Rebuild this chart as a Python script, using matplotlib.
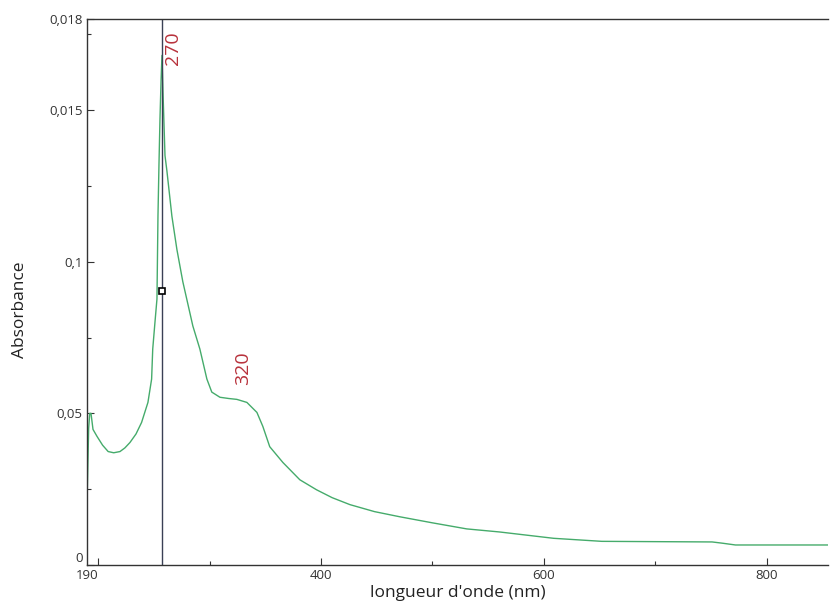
import matplotlib.pyplot as plt
from matplotlib.transforms import ScaledTranslation

plt.rcParams['font.family'] = ['Open Sans', 'DejaVu Sans']

# spectre UV-visible : longueur d'onde (nm) / absorbance
wavelength = [190, 190.6, 191.5, 192.5, 193.6, 195.4, 199, 204, 209, 214, 219.6,
              224, 228.6, 234, 239, 244.7, 248, 249, 251, 252.8, 253.7, 254.6,
              255.5, 256.5, 257.3, 258.2, 260, 261.7, 266.2, 270.7, 276, 285,
              291.3, 297.6, 302, 309.3, 317, 324.5, 333.5, 342.5, 347.8, 354,
              365.8, 381, 396, 410, 426, 448, 470.7, 500, 530.8, 560, 608.8,
              652, 700, 751, 760, 772, 800, 855]
absorbance = [0.020, 0.030, 0.045, 0.050, 0.050, 0.0447, 0.0424, 0.0395, 0.0374,
              0.0370, 0.0374, 0.0386, 0.0404, 0.0432, 0.047, 0.0536, 0.0613,
              0.0712, 0.080, 0.0877, 0.115, 0.132, 0.147, 0.160, 0.168, 0.156,
              0.135, 0.130, 0.115, 0.104, 0.0934, 0.0788, 0.0712, 0.0613, 0.057,
              0.0553, 0.0549, 0.0546, 0.0536, 0.0503, 0.0457, 0.039, 0.0338,
              0.0281, 0.0248, 0.0222, 0.0199, 0.0176, 0.0159, 0.0139, 0.0119,
              0.0109, 0.0088, 0.0078, 0.0077, 0.0076, 0.0072, 0.0066, 0.0066,
              0.0066]

cursor_x = 257.3
cursor_y = 0.0904

x_ticks = [190, 200, 400, 600, 800]
x_labels = ['190', '', '400', '600', '800']
y_ticks = [0, 0.05, 0.1, 0.15, 0.18]
y_labels = ['0', '0,05', '0,1', '0,015', '0,018']

# étiquettes des pics (position du texte, valeur affichée)
peak_labels = [(267, 0.1705, '270'), (330, 0.065, '320')]

fig = plt.figure(figsize=(8.3, 6.13), dpi=100)
ax = fig.add_axes([0.1048, 0.0783, 0.8928, 0.8907])

ax.plot(wavelength, absorbance, color='#45ab6b', lw=1.0)
ax.axvline(cursor_x, color='#3a4055', lw=1.0)
ax.plot(cursor_x, cursor_y, 's', ms=5, mfc='white', mec='black', mew=1.2)

for px, py, txt in peak_labels:
    ax.text(px, py, txt, rotation=90, color='#b8323c',
            fontsize=14, ha='center', va='center')

ax.set_xlim(190, 855)
ax.set_ylim(0, 0.18)

ax.set_xticks(x_ticks, x_labels)
ax.set_xticks([300, 500, 700], minor=True)
ax.xaxis.get_major_ticks()[0].tick1line.set_visible(False)
ax.set_yticks(y_ticks, y_labels)
ax.set_yticks([0.025, 0.075, 0.125, 0.175], minor=True)

ax.tick_params(axis='both', which='major', direction='in', length=5,
               labelsize=9.5, labelcolor='#333333', color='#333333', width=0.8)
ax.tick_params(axis='both', which='minor', direction='in', length=3,
               color='#333333', width=0.8)
ax.tick_params(axis='x', pad=3)
ax.tick_params(axis='y', pad=3)

# le "0" de l'axe y est un peu remonté
zero_lbl = ax.get_yticklabels()[0]
zero_lbl.set_transform(zero_lbl.get_transform() + ScaledTranslation(0, 6 / 72, fig.dpi_scale_trans))

ax.spines['right'].set_visible(False)
for s in ['left', 'bottom', 'top']:
    ax.spines[s].set_color('#333333')
    ax.spines[s].set_linewidth(1.0)

ax.set_xlabel("longueur d'onde (nm)", fontsize=12.5, color='#222222', labelpad=2)
ax.set_ylabel('Absorbance', fontsize=12.5, color='#222222')
ax.yaxis.set_label_coords(-0.08, 0.467)

fig.savefig('out.png')
